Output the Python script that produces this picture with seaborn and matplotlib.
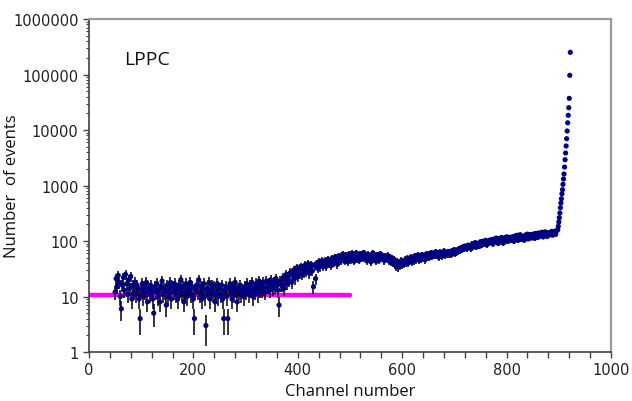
import numpy as np
import pandas as pd
import matplotlib
matplotlib.use("Agg")
import matplotlib.pyplot as plt
import seaborn as sns
from matplotlib.ticker import LogLocator, NullFormatter, FuncFormatter, MultipleLocator

# ---------------- data ----------------
bulk_channels = list(range(50, 898, 2))
bulk_counts = [
    12, 21, 15, 24, 18, 10, 6, 16, 22, 13, 25, 17, 11, 20, 14, 23, 9, 16, 12, 18,
    11, 16, 14, 9, 4, 13, 17, 10, 15, 12, 18, 8, 14, 11, 16, 13, 9, 5, 15, 12,
    17, 10, 13, 8, 15, 19, 11, 14, 12, 7, 16, 10, 13, 18, 9, 15, 12, 17, 11, 14,
    9, 16, 13, 20, 11, 15, 8, 12, 17, 10, 14, 13, 18, 11, 15, 9, 4, 13, 16, 12,
    20, 11, 15, 9, 13, 17, 10, 3, 14, 12, 18, 9, 13, 16, 11, 15, 8, 12, 17, 10,
    14, 11, 16, 9, 4, 13, 15, 10, 4, 14, 17, 12, 9, 15, 11, 18, 13, 8, 14, 12,
    16, 11, 13, 10, 15, 12, 17, 14, 11, 16, 13, 18, 10, 14, 12, 17, 15, 11, 19, 13,
    16, 13, 18, 14, 12, 19, 15, 17, 13, 20, 16, 14, 18, 15, 21, 17, 13, 7, 19, 16,
    16, 22, 14, 20, 25, 17, 23, 19, 27, 18, 25, 30, 21, 27, 33, 23, 31, 26, 35, 25,
    33, 27, 37, 28, 34, 39, 26, 33, 38, 29, 15, 36, 21, 40, 32, 42, 34, 39, 44, 35,
    38, 44, 35, 42, 47, 39, 45, 36, 49, 43, 41, 52, 45, 38, 54, 47, 43, 51, 58, 46,
    44, 56, 49, 42, 58, 52, 46, 60, 50, 43, 55, 61, 47, 53, 45, 59, 51, 48, 62, 50,
    54, 44, 58, 49, 52, 42, 56, 61, 47, 53, 43, 57, 50, 45, 59, 48, 55, 51, 44, 53,
    49, 55, 44, 52, 42, 50, 40, 47, 38, 35, 43, 34, 40, 36, 44, 37, 42, 39, 46, 41,
    48, 40, 45, 51, 42, 49, 44, 54, 46, 50, 56, 45, 52, 47, 57, 49, 53, 46, 58, 51,
    58, 50, 56, 62, 52, 59, 54, 64, 55, 60, 51, 63, 57, 53, 61, 66, 55, 62, 58, 65,
    58, 65, 56, 67, 61, 70, 59, 68, 64, 72, 66, 75, 69, 78, 71, 81, 76, 72, 84, 77,
    82, 73, 89, 78, 85, 93, 77, 91, 86, 80, 97, 84, 99, 88, 93, 103, 85, 98, 91, 104,
    94, 106, 88, 108, 97, 113, 99, 90, 110, 101, 116, 96, 92, 114, 103, 119, 98, 107, 117, 102,
    108, 120, 99, 123, 110, 127, 103, 115, 130, 107, 121, 114, 104, 128, 117, 133, 109, 122, 131, 113,
    121, 134, 112, 137, 125, 116, 140, 122, 130, 144, 118, 133, 146, 126, 121, 141, 129, 136, 149, 127,
    137, 150, 132, 153,
]
peak_channels = list(range(898, 923))
peak_counts = [
    160, 184, 220, 263, 320, 398, 484, 578, 711, 840,
    1050, 1310, 1610, 2150, 2920, 3850, 5150, 6970, 9600, 13500,
    18400, 25200, 37200, 96700, 251000,
]
limit_x = [0, 500]
limit_y = [10.5, 10.5]

x_ticks = [0, 200, 400, 600, 800, 1000]
y_ticks = [1, 10, 100, 1000, 10000, 100000, 1000000]

df = pd.DataFrame({
    "channel": bulk_channels + peak_channels,
    "counts": bulk_counts + peak_counts,
})
df["err"] = np.sqrt(df["counts"])

# ---------------- figure ----------------
sns.set_style("white")
plt.rcParams["font.family"] = ["DejaVu Sans"]

fig = plt.figure(figsize=(6.32, 4.02), dpi=100)
ax = fig.add_axes([0.1408, 0.1219, 0.826, 0.8283])

# magenta reference line
sns.lineplot(x=limit_x, y=limit_y, ax=ax, color="#FF00FF", linewidth=3.2,
             zorder=1.5, legend=False)

# error bars (sqrt N)
ax.errorbar(df["channel"], df["counts"], yerr=df["err"], fmt="none",
            ecolor="black", elinewidth=1.1, capsize=0, zorder=2)

# data points
sns.scatterplot(data=df, x="channel", y="counts", ax=ax, color="#000080",
                s=14, linewidth=0, edgecolor="none", zorder=3, legend=False)

ax.set_yscale("log")
ax.set_ylim(1, 1000000)
ax.set_xlim(0, 1000)

ax.set_xticks(x_ticks)
ax.xaxis.set_minor_locator(MultipleLocator(40))
ax.set_yticks(y_ticks)
ax.yaxis.set_major_formatter(FuncFormatter(lambda v, p: f"{v:.0f}"))
ax.yaxis.set_minor_locator(LogLocator(base=10, subs=np.arange(2, 10)))
ax.yaxis.set_minor_formatter(NullFormatter())

ax.tick_params(axis="both", which="major", direction="out", length=4,
               width=1, color="#404040", labelsize=10.5, labelcolor="#222222",
               bottom=True, left=True)
ax.tick_params(axis="x", which="minor", direction="out", length=4,
               width=1, color="#404040", bottom=True)
ax.tick_params(axis="y", which="minor", direction="out", length=2.5,
               width=0.8, color="#404040", left=True)

for side in ["left", "bottom"]:
    ax.spines[side].set_color("#404040")
    ax.spines[side].set_linewidth(1.2)
for side in ["top", "right"]:
    ax.spines[side].set_color("#9a9a9a")
    ax.spines[side].set_linewidth(1.6)

ax.set_xlabel("Channel number", fontsize=12, family=["Open Sans", "DejaVu Sans"],
              color="#111111", labelpad=4)
ax.set_ylabel("Number  of events", fontsize=12, family=["Open Sans", "DejaVu Sans"],
              color="#111111")
ax.yaxis.set_label_coords(-0.132, 0.5)

ax.text(0.068, 0.88, "LPPC", transform=ax.transAxes, fontsize=14,
        family=["Open Sans", "DejaVu Sans"], color="#111111", va="center")

ax.grid(False)
fig.savefig("out.png", dpi=100)
